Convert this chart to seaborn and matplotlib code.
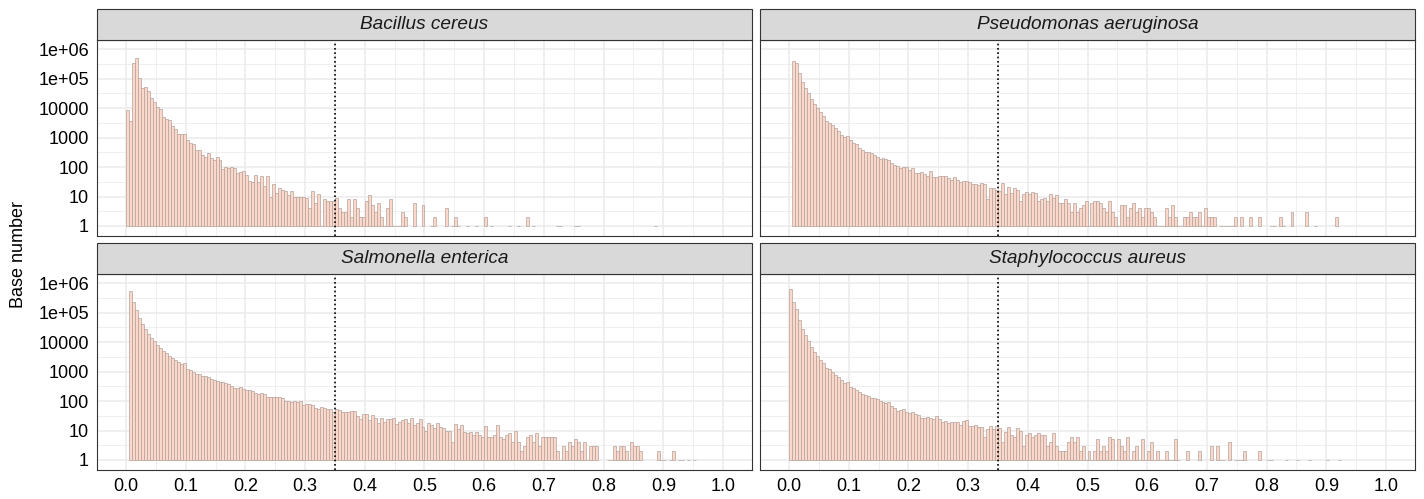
import numpy as np
import pandas as pd
import matplotlib
matplotlib.use("Agg")
import matplotlib.pyplot as plt
import seaborn as sns
from matplotlib.patches import Rectangle
from matplotlib.ticker import FixedLocator, FixedFormatter, NullFormatter

# ---------------- data ----------------
species = ["Bacillus cereus", "Pseudomonas aeruginosa",
           "Salmonella enterica", "Staphylococcus aureus"]
binwidth = 0.005
cutoff = 0.35

# bin counts, bin i covers [i*0.005, (i+1)*0.005)
bacillus_counts = [
    8700, 3700, 351000, 493000, 108000, 49400, 51900, 38900, 22500, 16800,
    11100, 9700, 5200, 4460, 3990, 2500, 1970, 1370, 1290, 1330,
    830, 660, 610, 390, 370, 250, 220, 300, 200, 170,
    215, 170, 86, 100, 95, 100, 92, 62, 66, 73,
    52, 35, 30, 56, 30, 49, 22, 48, 10, 26,
    13, 19, 17, 15, 11, 16, 10, 10, 10, 10,
    9, 4, 16, 6, 12, 1, 8, 7, 7, 7,
    9, 4, 3, 3, 8, 2, 8, 4, 2, 2,
    7, 11, 5, 3, 6, 2, 1, 4, 8, 1,
    1, 1, 3, 2, 0, 0, 6, 0, 0, 5,
    0, 0, 1, 2, 0, 0, 0, 4, 0, 1,
    2, 1, 0, 0, 1, 0, 0, 1, 0, 0,
    2, 0, 1, 0, 0, 0, 0, 0, 1, 0,
    0, 1, 0, 0, 2, 0, 1, 0, 0, 0,
    0, 0, 0, 0, 1, 1, 0, 0, 0, 0,
    1, 1, 0, 0, 0, 0, 0, 0, 0, 0,
    0, 0, 0, 0, 0, 0, 0, 0, 0, 0,
    0, 0, 0, 0, 0, 0, 0, 1,
]
pseudomonas_counts = [
    0, 410000, 351000, 152000, 79000, 48000, 31600, 21000, 14000, 10000,
    7500, 5500, 3700, 3240, 2640, 2090, 1650, 1260, 1050, 1110,
    810, 660, 620, 440, 380, 330, 315, 310, 260, 215,
    192, 203, 183, 170, 140, 117, 111, 95, 103, 100,
    81, 95, 62, 62, 66, 58, 50, 71, 47, 47,
    49, 49, 48, 41, 37, 46, 37, 30, 33, 33,
    31, 26, 27, 24, 28, 27, 8, 20, 20, 17,
    16, 28, 12, 21, 13, 19, 17, 7, 12, 14,
    12, 14, 13, 7, 8, 9, 7, 12, 9, 11,
    6, 6, 8, 6, 3, 6, 3, 4, 5, 7,
    1, 6, 7, 7, 6, 4, 3, 7, 3, 2,
    1, 5, 5, 2, 4, 6, 3, 4, 2, 4,
    4, 3, 2, 1, 1, 1, 4, 2, 5, 2,
    1, 1, 2, 2, 3, 2, 2, 3, 1, 4,
    2, 2, 2, 0, 1, 1, 1, 1, 1, 2,
    0, 2, 0, 0, 2, 0, 0, 2, 0, 0,
    0, 1, 1, 0, 2, 1, 0, 0, 3, 0,
    0, 0, 0, 3, 0, 0, 1, 0, 0, 0,
    0, 0, 0, 2,
]
salmonella_counts = [
    0, 550000, 240000, 125000, 66000, 42000, 29000, 18600, 14000, 11300,
    8100, 6600, 4900, 4300, 3500, 2900, 2560, 2190, 1820, 1970,
    1240, 1140, 1000, 860, 810, 730, 690, 660, 565, 535,
    470, 460, 460, 400, 370, 335, 285, 285, 300, 260,
    245, 232, 215, 190, 180, 190, 174, 138, 138, 138,
    134, 138, 124, 104, 104, 96, 101, 93, 104, 76,
    80, 80, 74, 60, 54, 62, 57, 53, 56, 42,
    54, 49, 43, 43, 42, 45, 46, 32, 25, 36,
    36, 23, 33, 27, 18, 27, 20, 25, 25, 26,
    17, 20, 23, 24, 18, 27, 15, 18, 25, 13,
    10, 18, 15, 12, 18, 13, 12, 10, 10, 4,
    17, 11, 15, 9, 8, 9, 7, 9, 7, 6,
    14, 6, 6, 7, 15, 6, 5, 7, 8, 4,
    10, 4, 2, 3, 6, 7, 4, 8, 3, 6,
    6, 6, 6, 6, 2, 1, 3, 2, 4, 3,
    5, 4, 2, 4, 1, 3, 3, 3, 0, 0,
    0, 1, 1, 3, 2, 3, 3, 2, 1, 4,
    3, 3, 2, 0, 0, 0, 0, 0, 2, 1,
    1, 0, 1, 2, 0, 1, 1, 0, 1, 0,
    1,
]
staphylococcus_counts = [
    645000, 228000, 135000, 59000, 28000, 17600, 11000, 6900, 4570, 3420,
    2500, 1970, 1330, 1200, 950, 795, 665, 510, 415, 455,
    300, 270, 240, 204, 174, 161, 149, 131, 124, 118,
    101, 96, 89, 91, 70, 57, 46, 50, 55, 44,
    39, 42, 37, 34, 27, 27, 29, 27, 25, 31,
    25, 19, 21, 18, 19, 19, 19, 15, 21, 23,
    14, 14, 15, 13, 13, 6, 11, 14, 11, 14,
    12, 4, 9, 13, 7, 6, 12, 10, 3, 7,
    8, 6, 7, 8, 7, 7, 3, 4, 8, 3,
    2, 2, 2, 4, 6, 4, 6, 2, 3, 1,
    2, 1, 2, 5, 2, 3, 2, 6, 5, 1,
    5, 3, 2, 6, 1, 2, 3, 1, 5, 1,
    2, 4, 1, 2, 1, 1, 2, 1, 1, 5,
    1, 0, 0, 2, 0, 0, 0, 2, 0, 0,
    0, 3, 0, 3, 1, 1, 0, 4, 0, 1,
    1, 1, 2, 0, 0, 0, 0, 2, 0, 0,
    1, 1, 0, 0, 0, 0, 1, 0, 0, 0,
    1, 0, 0, 0, 1, 0, 0, 0, 0, 0,
    1, 0, 0, 0, 1,
]
x_ticks = [0.0, 0.1, 0.2, 0.3, 0.4, 0.5, 0.6, 0.7, 0.8, 0.9, 1.0]
x_tick_labels = ["0.0", "0.1", "0.2", "0.3", "0.4", "0.5",
                 "0.6", "0.7", "0.8", "0.9", "1.0"]
y_ticks = [1, 10, 100, 1000, 10000, 100000, 1000000]
y_tick_labels = ["1", "10", "100", "1000", "10000", "1e+05", "1e+06"]
y_label = "Base number"

all_counts = [bacillus_counts, pseudomonas_counts,
              salmonella_counts, staphylococcus_counts]
rows = []
for sp, counts in zip(species, all_counts):
    for i, c in enumerate(counts):
        if c > 0:
            rows.append((sp, i * binwidth, c))
df = pd.DataFrame(rows, columns=["species", "bin_left", "count"])

# ---------------- style ----------------
FILL = "#FBD8CA"
EDGE = "#B4A29B"
GRID = "#EBEBEB"
DARK = "#333333"

sns.set_theme(style="white")
plt.rcParams["font.family"] = ["Liberation Sans", "DejaVu Sans"]

W, H = 1424, 499
g = sns.FacetGrid(df, col="species", col_wrap=2, col_order=species,
                  sharex=True, sharey=True, height=2.4, aspect=3,
                  despine=False)


def draw(data, **kws):
    ax = plt.gca()
    ax.bar(data["bin_left"], data["count"] - 1, bottom=1, width=binwidth,
           align="edge", color=FILL, edgecolor=EDGE, linewidth=0.5, zorder=2)
    ax.axvline(cutoff, color="black", linestyle=(0, (1.0, 1.6)),
               linewidth=1.2, zorder=3)


g.map_dataframe(draw)
g.set_titles("")
g.set_axis_labels("", "")
fig = g.figure
fig.set_size_inches(W / 100, H / 100)
fig.patch.set_facecolor("white")

# panel boxes in pixels (left, right, top, bottom)
boxes = [(97, 752, 40, 236), (760, 1415, 40, 236),
         (97, 752, 274, 470), (760, 1415, 274, 470)]
strip_px = 31

axes = list(g.axes.flat)
for ax in axes:
    ax.set_yscale("log")

for k, ax in enumerate(axes):
    l, r, t, b = boxes[k]
    ax.set_position([l / W, 1 - b / H, (r - l) / W, (b - t) / H])
    ax.set_xlim(-0.0485, 1.0485)
    ax.set_ylim(10 ** -0.34, 10 ** 6.316)
    ax.set_axisbelow(True)
    ax.set_facecolor("white")
    for s in ax.spines.values():
        s.set_visible(True)
        s.set_color(DARK)
        s.set_linewidth(0.8)
        s.set_zorder(4)
    ax.set_xlabel("")
    ax.set_ylabel("")

# shared tickers (set once, after the scale)
ax0 = axes[0]
ax0.xaxis.set_major_locator(FixedLocator(x_ticks))
ax0.xaxis.set_minor_locator(FixedLocator([v + 0.05 for v in x_ticks[:-1]]))
ax0.xaxis.set_major_formatter(FixedFormatter(x_tick_labels))
ax0.xaxis.set_minor_formatter(NullFormatter())
ax0.yaxis.set_major_locator(FixedLocator(y_ticks))
ax0.yaxis.set_minor_locator(FixedLocator([10 ** (e + 0.5) for e in range(6)]))
ax0.yaxis.set_major_formatter(FixedFormatter(y_tick_labels))
ax0.yaxis.set_minor_formatter(NullFormatter())

for k, ax in enumerate(axes):
    l, r, t, b = boxes[k]
    ax.grid(which="major", color=GRID, linewidth=1.1, zorder=0)
    ax.grid(which="minor", color=GRID, linewidth=0.55, zorder=0)
    ax.tick_params(which="major", direction="out", length=3.2, width=0.8,
                   color=DARK, labelsize=13, labelcolor="black", pad=2.5)
    ax.tick_params(which="minor", length=0)
    ax.tick_params(axis="x", labelbottom=(k >= 2))
    ax.tick_params(axis="y", labelleft=(k % 2 == 0))
    # strip
    sh = strip_px / (b - t)
    ax.add_patch(Rectangle((0, 1), 1, sh, transform=ax.transAxes,
                           facecolor="#D9D9D9", edgecolor=DARK,
                           linewidth=0.8, clip_on=False, zorder=5))
    ax.text(0.5, 1 + sh / 2, species[k], transform=ax.transAxes,
            ha="center", va="center", fontsize=13.7, style="italic",
            color="#1A1A1A", zorder=6)

fig.text(19 / W, 1 - 255 / H, y_label, rotation=90, ha="center",
         va="center", fontsize=13, color="black")

fig.savefig("out.png", dpi=100, facecolor="white")
